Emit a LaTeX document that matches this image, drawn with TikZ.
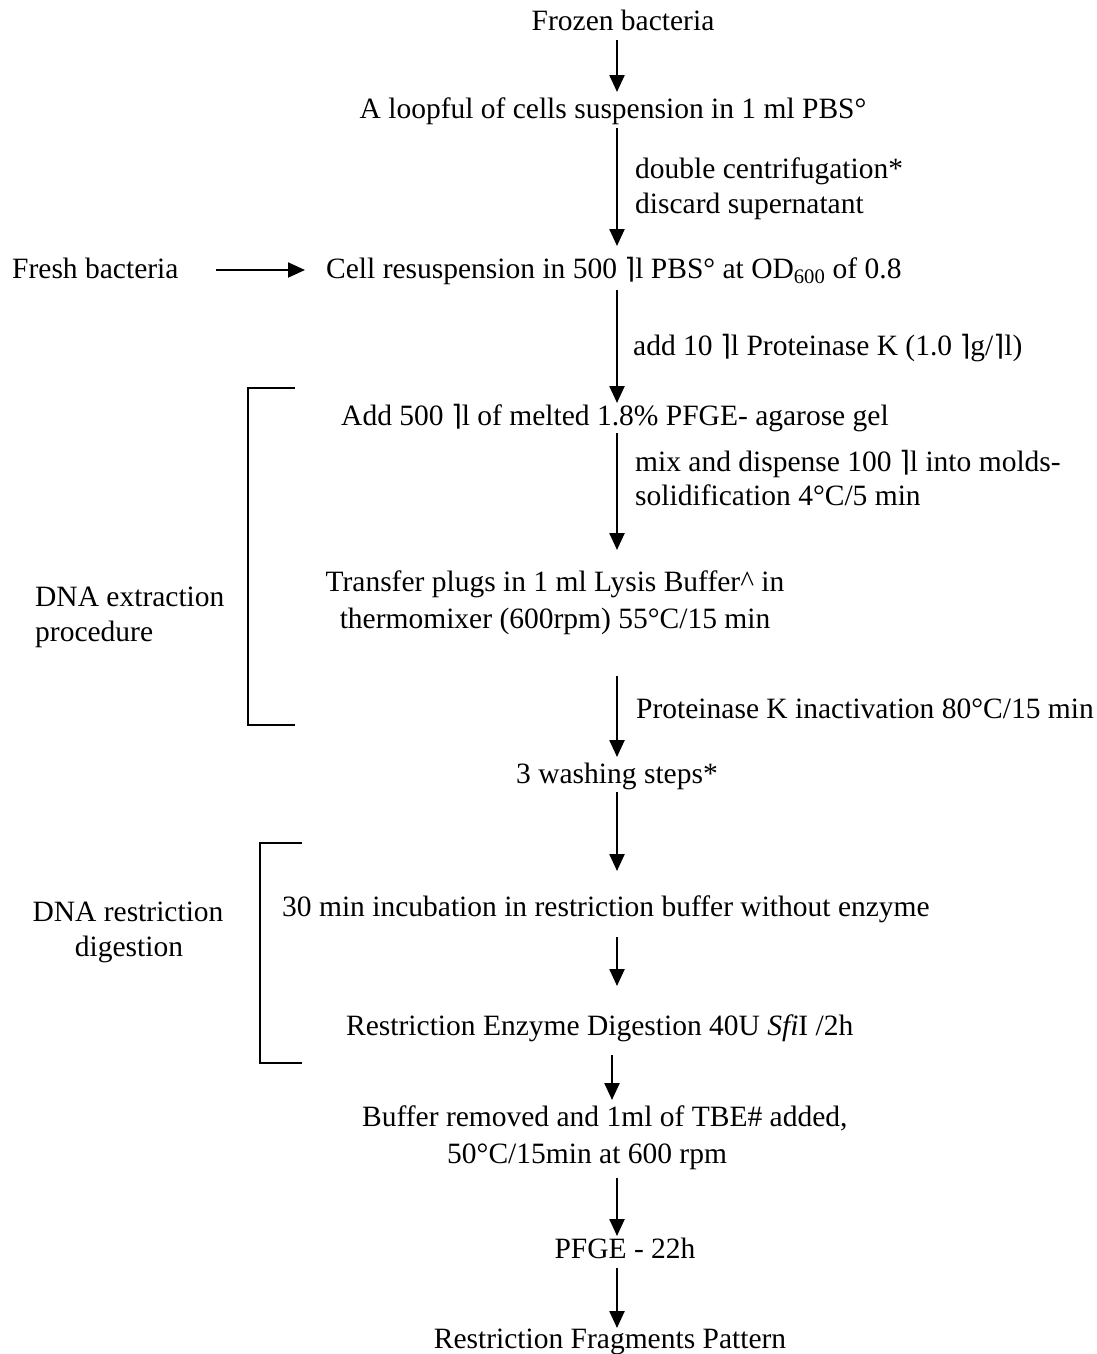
\documentclass[tikz,border=0pt]{standalone}
\usepackage{fontspec}
\setmainfont{Liberation Serif}
\newfontfamily\dvs{DejaVu Sans}
\usetikzlibrary{arrows.meta}
\newcommand\mum{{\dvs\fontsize{28}{28}\selectfont ⌉}}
\begin{document}
\begin{tikzpicture}[x=1pt,y=-1pt,
  every node/.style={font=\fontsize{29.5}{36}\selectfont, inner sep=0pt, anchor=base},
  lbl/.style={anchor=base west},
  arr/.style={line width=2.4pt, -{Triangle[width=15pt,length=17pt]}},
  brk/.style={line width=1.6pt}]
\useasboundingbox (0,0) rectangle (1096,1354);
\coordinate (ax) at (617,0);
\coordinate (bx) at (612,0);
% main column
\node (frozen) at (623,31) {Frozen bacteria};
\node (loop) at (613,118) {A loopful of cells suspension in 1 ml PBS°};
\node[lbl] (cell) at (326,278) {Cell resuspension in 500 \mum l PBS° at OD\textsubscript{600} of 0.8};
\node[lbl] (fresh) at (12,278) {Fresh bacteria};
\node[lbl] (add) at (341,425) {Add 500 \mum l of melted 1.8\% PFGE- agarose gel};
\node (tr1) at (555,591) {Transfer plugs in 1 ml Lysis Buffer\textasciicircum\ in};
\node (tr2) at (555,628) {thermomixer (600rpm) 55°C/15 min};
\node (wash) at (617,783) {3 washing steps*};
\node[lbl] (inc) at (282,916) {30 min incubation in restriction buffer without enzyme};
\node[lbl] (renz) at (346,1035) {Restriction Enzyme Digestion 40U \textit{Sfi}I /2h};
\node[lbl] (buf1) at (362,1126) {Buffer removed and 1ml of TBE\# added,};
\node[lbl] (buf2) at (447,1163) {50°C/15min at 600 rpm};
\node (pfge) at (625,1258) {PFGE - 22h};
\node (frag) at (610,1348) {Restriction Fragments Pattern};
% side labels
\node[lbl] (l1a) at (635,178) {double centrifugation*};
\node[lbl] (l1b) at (635,213) {discard supernatant};
\node[lbl] (l2) at (633,355) {add 10 \mum l Proteinase K (1.0 \mum g/\mum l)};
\node[lbl] (l3a) at (635,471) {mix and dispense 100 \mum l into molds-};
\node[lbl] (l3b) at (635,505) {solidification 4°C/5 min};
\node[lbl] (l4) at (636,718) {Proteinase K inactivation 80°C/15 min};
\node[lbl] (g1a) at (35,606) {DNA extraction};
\node[lbl] (g1b) at (35,641) {procedure};
\node (g2a) at (128,921) {DNA restriction};
\node (g2b) at (129,956) {digestion};
% arrows
\draw[arr, shorten <=9pt, shorten >=26pt] (frozen.base -| ax) -- (loop.base -| ax);
\draw[arr, shorten <=10pt, shorten >=32pt] (loop.base -| ax) -- (cell.base -| ax);
\draw[arr, shorten <=12pt, shorten >=22pt] (cell.base -| ax) -- (add.base -| ax);
\draw[arr, shorten <=8pt, shorten >=41pt] (add.base -| ax) -- (tr1.base -| ax);
\draw[arr, shorten <=48pt, shorten >=26pt] (tr2.base -| ax) -- (wash.base -| ax);
\draw[arr, shorten <=9pt, shorten >=45pt] (wash.base -| ax) -- (inc.base -| ax);
\draw[arr, shorten <=21pt, shorten >=49pt] (inc.base -| ax) -- (renz.base -| ax);
\draw[arr, shorten <=20pt, shorten >=26pt] (renz.base -| bx) -- (buf1.base -| bx);
\draw[arr, shorten <=15pt, shorten >=22pt] (buf2.base -| ax) -- (pfge.base -| ax);
\draw[arr, shorten <=10pt, shorten >=20pt] (pfge.base -| ax) -- (frag.base -| ax);
\draw[arr, line width=2pt, shorten <=37pt, shorten >=21pt] ([yshift=8pt]fresh.base east) -- ([yshift=8pt]cell.base west);
% brackets
\draw[brk] (295,388) -- (248,388) -- (248,725) -- (295,725);
\draw[brk] (302,843) -- (260,843) -- (260,1063) -- (302,1063);
\end{tikzpicture}
\end{document}
